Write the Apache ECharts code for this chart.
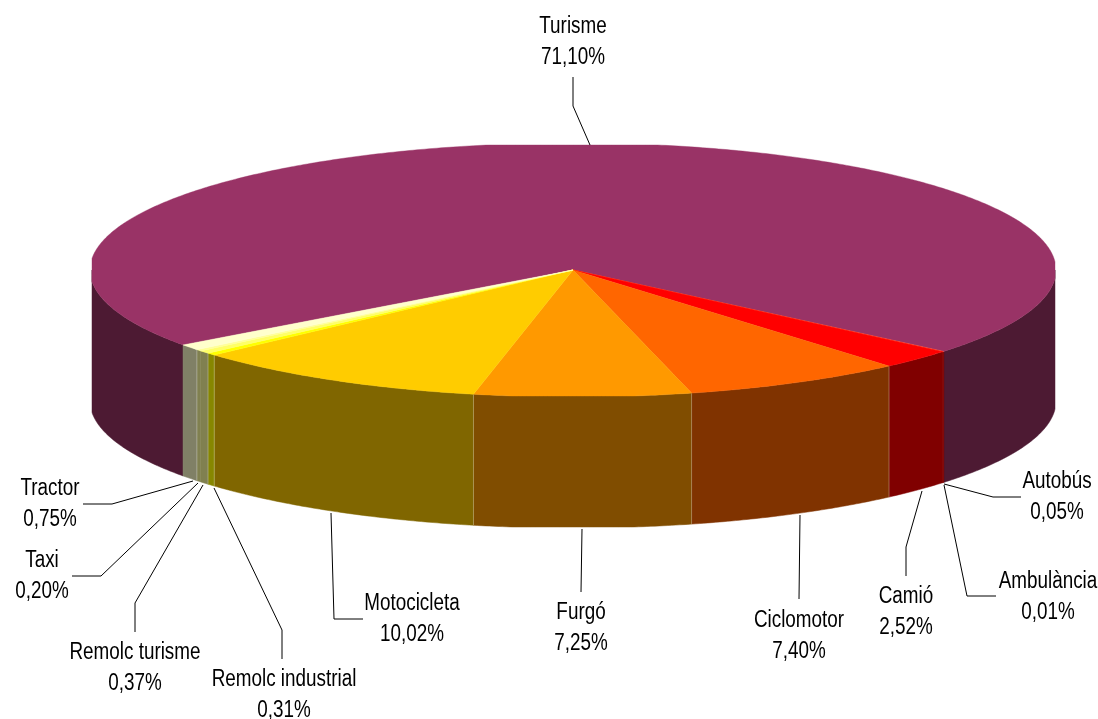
<!DOCTYPE html>
<html>
<head>
<meta charset="utf-8">
<style>html,body{margin:0;padding:0;background:#fff}#c{width:1098px;height:719px}</style>
<script src="https://cdn.jsdelivr.net/npm/echarts@6/dist/echarts.min.js"></script>
</head>
<body>
<div id="c"></div>
<script>
// Data, clockwise from the start of the Turisme slice
const categories = ['Turisme','Autobús','Ambulància','Camió','Ciclomotor','Furgó','Motocicleta','Remolc industrial','Remolc turisme','Taxi','Tractor'];
const values = [71.10,0.05,0.01,2.52,7.40,7.25,10.02,0.31,0.37,0.20,0.75];
const valueLabels = ['71,10%','0,05%','0,01%','2,52%','7,40%','7,25%','10,02%','0,31%','0,37%','0,20%','0,75%'];

// Styles
const topColors = ['#993366','#ff6666','#ff3300','#ff0000','#ff6600','#ff9900','#ffcc00','#ffff00','#ffff66','#ffff99','#ffffcc'];
const sideColors = ['#4d1a33','#800000','#800000','#800000','#803300','#804d00','#806600','#878700','#808050','#808050','#808066'];
const seamAfter = [false,false,false,true,true,true,true,true,false,true,false];

// Layout: label centres and leader lines
const labelPos = [[573,27],[1057,482],[1048,582],[906,597],[799,621],[581,613],[412,604],[284,680],[135,653],[42,561],[50,489]];
const leaders = [
 [[573,77],[573,106],[590,145]],
 [[1021,497],[993,497],[944,484]],
 [[996,596],[967,596],[944,485]],
 [[906,576],[906,547],[922,491]],
 [[799,599],[800,515]],
 [[581,592],[582,529]],
 [[363,619],[334,619],[331,513]],
 [[282,659],[282,630],[214,488]],
 [[135,632],[135,603],[203,485]],
 [[72,576],[101,576],[198,483]],
 [[83,504],[112,504],[193,481]]
];
const CX=573, CY=270, RX=483, RY=127, DEPTH=131, MINX=92, MAXX=1055, MINY=145, MAXY=396;
const START_ANGLE=39.85;
const total = values.reduce((a,b)=>a+b,0);
const FONT='23px "Liberation Sans"', TEXT_SCALE=0.82, LINE_GAP=31;

function pt(deg,dy){
  const r=deg*Math.PI/180;
  let x=CX+RX*Math.cos(r), y=CY+RY*Math.sin(r);
  x=Math.min(MAXX,Math.max(MINX,x)); y=Math.min(MAXY,Math.max(MINY,y));
  return [x,y+(dy||0)];
}
function arc(a0,a1,dy){
  const n=Math.max(2,Math.ceil(Math.abs(a1-a0)/0.5)), out=[];
  for(let i=0;i<=n;i++) out.push(pt(a0+(a1-a0)*i/n,dy));
  return out;
}
function frontRanges(a0,a1){
  const res=[];
  for(let k=-2;k<=2;k++){
    const l=Math.max(a0,k*360), h=Math.min(a1,k*360+180);
    if(h>l) res.push([l,h]);
  }
  return res;
}
function ranges(idx,val){
  let acc=0;
  for(let i=0;i<idx;i++) acc+=values[i];
  const a0=START_ANGLE-360*values[0]/total+360*acc/total;
  return [a0,a0+360*val/total];
}
function renderItem(params,api){
  const i=params.dataIndex, val=api.value(0);
  const [a0,a1]=ranges(i,val);
  const children=[];
  frontRanges(a0,a1).forEach(r=>{
    const upper=arc(r[0],r[1],0), lower=arc(r[1],r[0],DEPTH);
    children.push({type:'polygon',z2:1,shape:{points:upper.concat(lower)},style:{fill:sideColors[i],stroke:sideColors[i],lineWidth:0.5}});
    if(seamAfter[i]){
      const p=pt(r[1],0);
      children.push({type:'line',z2:2,shape:{x1:p[0],y1:p[1],x2:p[0],y2:p[1]+DEPTH},style:{stroke:'rgba(255,255,255,0.28)',lineWidth:1}});
    }
  });
  children.push({type:'polygon',z2:3,shape:{points:[[CX,CY]].concat(arc(a0,a1,0))},style:{fill:topColors[i],stroke:topColors[i],lineWidth:0.4}});
  children.push({type:'polyline',z2:4,shape:{points:leaders[i]},style:{fill:'none',stroke:'#000',lineWidth:1}});
  const lp=labelPos[i];
  [categories[i],valueLabels[i]].forEach((t,k)=>{
    children.push({type:'text',z2:5,x:lp[0],y:lp[1]+k*LINE_GAP,scaleX:TEXT_SCALE,
      style:{text:t,font:FONT,fill:'#000',align:'center',verticalAlign:'middle'}});
  });
  return {type:'group',children};
}
const chart=echarts.init(document.getElementById('c'),null,{renderer:'canvas',width:1098,height:719});
chart.setOption({
  animation:false,
  backgroundColor:'#fff',
  series:[{type:'custom',coordinateSystem:'none',renderItem,
    data:values.map((v,i)=>({name:categories[i],value:[v]}))}]
});
</script>
</body>
</html>
